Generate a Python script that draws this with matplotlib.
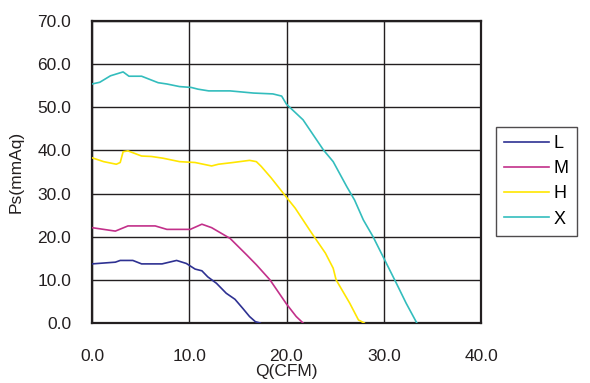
import matplotlib
matplotlib.use("Agg")
import matplotlib.pyplot as plt

plt.rcParams['font.family'] = ['Liberation Sans', 'DejaVu Sans']

# fan curves
q_L = [0.0, 2.4, 2.9, 4.2, 5.1, 7.2, 8.7, 9.7, 10.6, 11.3, 11.9, 12.8, 13.8, 14.7, 15.5, 16.2, 16.8, 17.3]
p_L = [13.7, 14.1, 14.5, 14.5, 13.7, 13.7, 14.5, 13.8, 12.5, 12.1, 10.7, 9.2, 6.9, 5.5, 3.4, 1.5, 0.3, 0.0]

q_M = [0.0, 1.2, 2.4, 3.7, 6.5, 7.7, 10.1, 11.3, 12.3, 14.2, 15.9, 16.9, 18.3, 20.0, 21.0, 21.7]
p_M = [22.1, 21.7, 21.3, 22.5, 22.5, 21.7, 21.7, 22.9, 22.1, 19.6, 15.8, 13.5, 10.0, 4.4, 1.5, 0.0]

q_H = [0.0, 1.2, 2.5, 2.9, 3.2, 3.7, 5.1, 6.1, 7.3, 9.0, 10.6, 12.3, 13.0, 14.5, 16.2, 16.9, 17.4, 18.4,
       19.8, 20.9, 22.6, 24.0, 24.8, 25.1, 26.5, 27.4, 28.0]
p_H = [38.3, 37.4, 36.8, 37.2, 39.7, 39.9, 38.7, 38.6, 38.2, 37.4, 37.2, 36.4, 36.8, 37.2, 37.7, 37.4, 36.3, 33.7,
       29.7, 26.6, 20.8, 16.2, 12.7, 10.0, 4.6, 0.7, 0.0]

q_X = [0.0, 0.8, 1.9, 3.2, 3.8, 5.1, 6.8, 7.7, 9.0, 10.2, 10.9, 12.0, 14.2, 16.6, 18.6, 19.5, 20.0, 21.7,
       23.8, 24.8, 26.2, 27.0, 27.9, 28.9, 30.1, 31.3, 32.3, 33.4]
p_X = [55.4, 55.8, 57.3, 58.2, 57.2, 57.2, 55.7, 55.4, 54.8, 54.6, 54.2, 53.8, 53.8, 53.3, 53.1, 52.6, 50.7, 47.1,
       40.1, 37.4, 31.6, 28.5, 23.9, 20.0, 14.6, 9.2, 4.6, 0.0]

labels = ["L", "M", "H", "X"]
colors = ["#2E3192", "#C2308A", "#FFE600", "#33BDBD"]

x_ticks = [0, 10, 20, 30, 40]
y_ticks = [0, 10, 20, 30, 40, 50, 60, 70]

fig = plt.figure(figsize=(5.9, 3.83), dpi=100)
ax = fig.add_axes([92 / 590, 60 / 383, 389 / 590, 302 / 383])

for q, p, lab, c in zip([q_L, q_M, q_H, q_X], [p_L, p_M, p_H, p_X], labels, colors):
    ax.plot(q, p, color=c, lw=1.2, label=lab, zorder=3)

ax.set_xlim(0, 40)
ax.set_ylim(0, 70)
ax.set_xticks(x_ticks)
ax.set_yticks(y_ticks)
ax.set_xticklabels([f"{v:.1f}" for v in x_ticks], fontsize=12.5, color="#231F20")
ax.set_yticklabels([f"{v:.1f}" for v in y_ticks], fontsize=12.5, color="#231F20")
ax.tick_params(length=0)
ax.tick_params(axis='x', pad=19)
ax.tick_params(axis='y', pad=15)
ax.grid(True, color="#231F20", lw=1.0)
for s in ax.spines.values():
    s.set_color("#231F20")
    s.set_linewidth(1.6)

ax.set_xlabel("Q(CFM)", fontsize=12.5, color="#231F20", labelpad=0)
ax.set_ylabel("Ps(mmAq)", fontsize=12.5, color="#231F20", labelpad=10)

leg = fig.legend(loc="upper left", bbox_to_anchor=(496 / 590, 1 - 127 / 383),
                 fontsize=13, frameon=True, fancybox=False, handlelength=2.5,
                 handletextpad=0.25, labelspacing=0.45, borderpad=0.45,
                 borderaxespad=0)
leg.get_frame().set_edgecolor("#231F20")
leg.get_frame().set_linewidth(1.0)

fig.savefig("out.png", dpi=100)
